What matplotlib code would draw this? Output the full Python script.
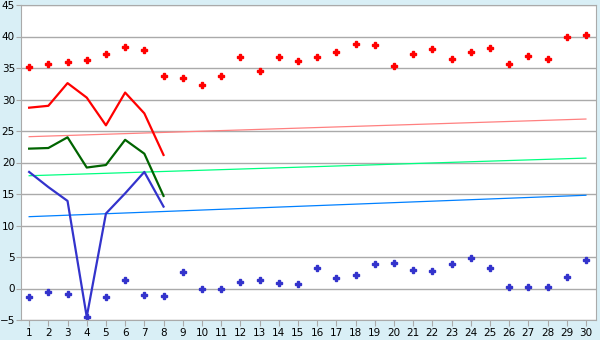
import matplotlib

matplotlib.use("Agg")
import matplotlib.pyplot as plt

days = list(range(1, 31))

# scatter series
red_points = [35.1, 35.7, 35.9, 36.2, 37.2, 38.4, 37.8, 33.7, 33.4, 32.3,
              33.8, 36.7, 34.6, 36.7, 36.1, 36.7, 37.6, 38.8, 38.6, 35.3,
              37.2, 38.0, 36.4, 37.6, 38.1, 35.7, 36.9, 36.5, 39.9, 40.2]
blue_points = [-1.4, -0.6, -0.9, -4.5, -1.4, 1.3, -1.1, -1.2, 2.6, -0.1,
               -0.1, 1.1, 1.3, 0.8, 0.7, 3.3, 1.6, 2.1, 3.9, 4.0,
               2.9, 2.7, 3.9, 4.8, 3.3, 0.2, 0.2, 0.2, 1.9, 4.5]

# line series (first 8 days)
line_days = days[:8]
red_line = [28.7, 29.0, 32.6, 30.3, 25.9, 31.1, 27.8, 21.2]
green_line = [22.2, 22.3, 24.0, 19.2, 19.6, 23.6, 21.4, 14.7]
blue_line = [18.5, 16.1, 13.9, -4.5, 11.9, 15.1, 18.5, 13.0]

# trend lines: value at day 1 and day 30
trend_ends = [1, 30]
trend_red = [24.1, 26.9]
trend_green = [17.9, 20.7]
trend_blue = [11.4, 14.8]

BG = "#d9eff6"
fig = plt.figure(figsize=(6, 3.4), dpi=100, facecolor=BG)
ax = fig.add_axes([20.5 / 600, 20 / 340, 575 / 600, 315 / 340])
ax.set_facecolor("white")

ax.plot(trend_ends, trend_red, color="#ff8080", lw=0.9)
ax.plot(trend_ends, trend_green, color="#00ff80", lw=0.9)
ax.plot(trend_ends, trend_blue, color="#0080ff", lw=0.9)

ax.plot(line_days, red_line, color="#ff0000", lw=1.6)
ax.plot(line_days, green_line, color="#006400", lw=1.6)
ax.plot(line_days, blue_line, color="#3333cc", lw=1.6)

ax.plot(days, red_points, ls="none", marker="P", ms=4, color="#ff0000")
ax.plot(days, blue_points, ls="none", marker="P", ms=4, color="#3333cc")

ax.set_xlim(0.55, 30.5)
ax.set_ylim(-5, 45)
ax.set_xticks(days)
ax.set_yticks(range(-5, 46, 5))
ax.grid(axis="y", color="#aaaaaa", lw=1)
ax.set_axisbelow(True)
for s in ax.spines.values():
    s.set_color("#aaaaaa")
ax.tick_params(colors="#aaaaaa", labelcolor="black", labelsize=7.5)
ax.tick_params(axis="y", length=3.5, pad=0.5)
ax.tick_params(axis="x", length=4, pad=2)

fig.savefig("out.png", dpi=100, facecolor=BG)
